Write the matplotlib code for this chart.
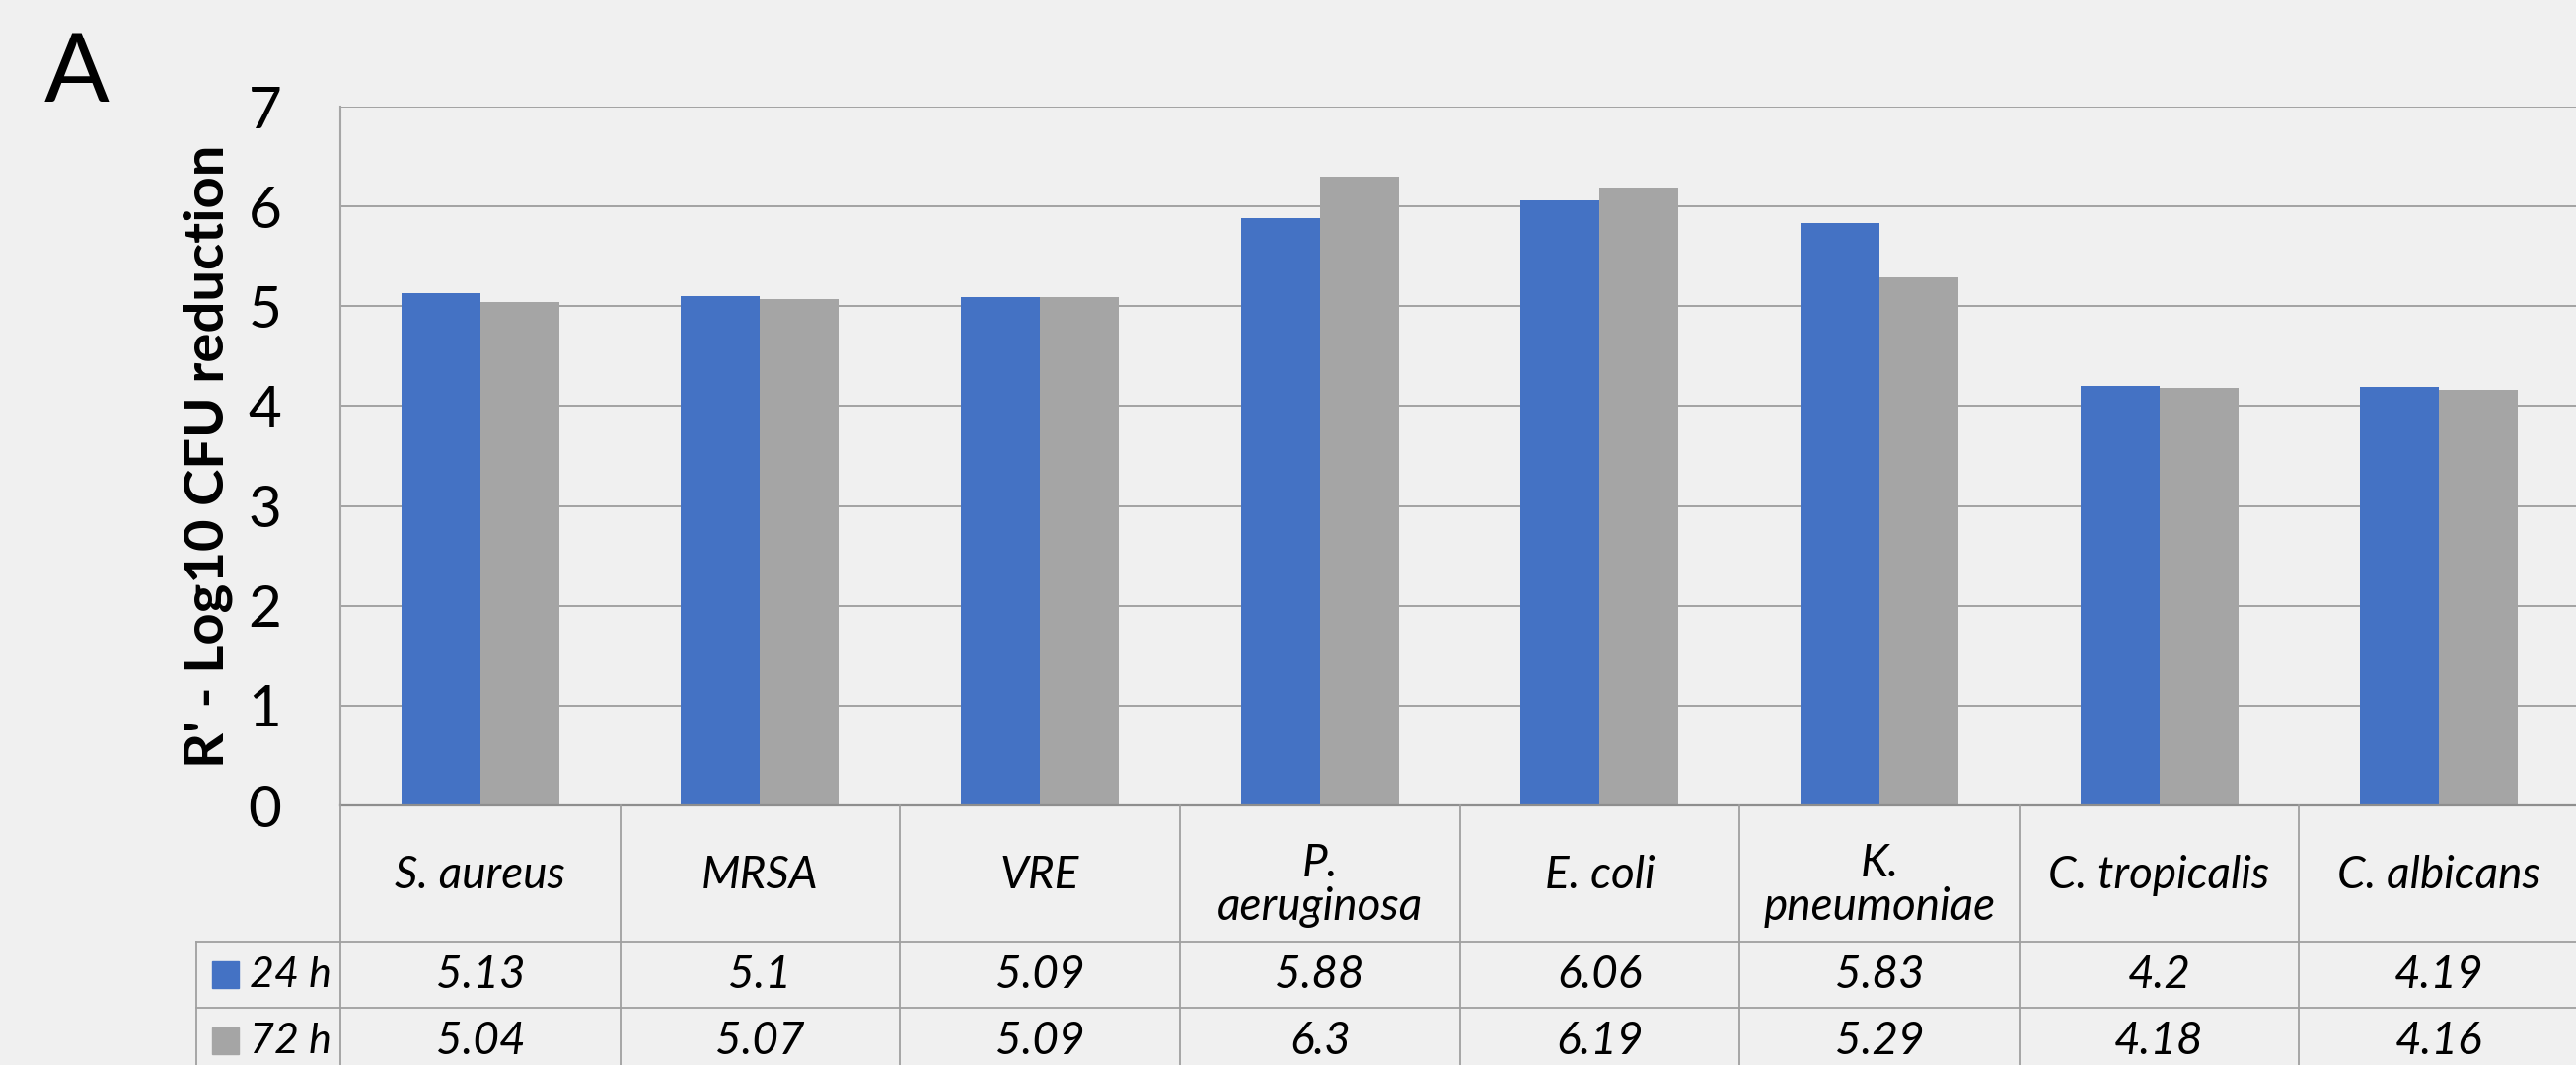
import matplotlib
matplotlib.use("Agg")
import matplotlib.pyplot as plt
from matplotlib.patches import Rectangle
from matplotlib.lines import Line2D
from matplotlib.transforms import blended_transform_factory

categories = ["S. aureus", "MRSA", "VRE", "P.\naeruginosa", "E. coli",
              "K.\npneumoniae", "C. tropicalis", "C. albicans"]
series_names = ["24 h", "72 h"]
vals_24h = [5.13, 5.1, 5.09, 5.88, 6.06, 5.83, 4.2, 4.19]
vals_72h = [5.04, 5.07, 5.09, 6.3, 6.19, 5.29, 4.18, 4.16]
yticks = [0, 1, 2, 3, 4, 5, 6, 7]
ylabel = "R' - Log10 CFU reduction"
panel = "A"

W, H = 2611, 1079
DPI = 100
BG = "#F0F0F0"
BLUE = "#4472C4"
GRAY = "#A5A5A5"
LINE = "#A0A0A0"
TFS = 33

plt.rcParams['font.family'] = ['Lato', 'DejaVu Sans']

fig = plt.figure(figsize=(W / DPI, H / DPI), dpi=DPI, facecolor=BG)

def fx(px):
    return px / W

def fy(py):
    return 1 - py / H

ax_left, ax_right, ax_top, ax_bot = 345, 2614, 108, 816
ax = fig.add_axes([fx(ax_left), fy(ax_bot), fx(ax_right - ax_left), (ax_bot - ax_top) / H])
ax.set_facecolor(BG)

n = len(categories)
xs = list(range(n))
bw = 0.282
ax.bar([x - bw / 2 for x in xs], vals_24h, width=bw, color=BLUE, zorder=3)
ax.bar([x + bw / 2 for x in xs], vals_72h, width=bw, color=GRAY, zorder=3)

ax.set_xlim(-0.5, n - 0.5)
ax.set_ylim(0, 7)
ax.set_yticks(yticks)
ax.set_yticklabels([str(t) for t in yticks], fontsize=42)
ax.tick_params(axis='y', length=0, pad=43)
ax.set_xticks([])
ax.grid(axis='y', color="#9C9C9C", linewidth=1.3, zorder=0)
ax.set_axisbelow(True)
for s in ['top', 'right']:
    ax.spines[s].set_visible(False)
ax.spines['left'].set_color("#A6A6A6")
ax.spines['left'].set_linewidth(1.5)
ax.spines['bottom'].set_color("#8E8E8E")
ax.spines['bottom'].set_linewidth(1.6)
ax.spines['bottom'].set_zorder(4)

# y label and panel letter
fig.text(fx(211), fy(462), ylabel, rotation=90, ha='center', va='center',
         fontsize=40.5, fontweight='bold')
fig.text(fx(45), fy(103), panel, ha='left', va='baseline', fontsize=70)

# data table below the axis
tr = blended_transform_factory(ax.transData, fig.transFigure)
row_lines = [954, 1021]
table_bottom = 1095
leg_left = 199

for yy in row_lines:
    fig.add_artist(Line2D([fx(leg_left), 1.01], [fy(yy), fy(yy)], color=LINE,
                          linewidth=1.3, transform=fig.transFigure))
fig.add_artist(Line2D([fx(leg_left), fx(leg_left)], [fy(row_lines[0]), fy(table_bottom)],
                      color=LINE, linewidth=1.3, transform=fig.transFigure))
for i in range(n + 1):
    fig.add_artist(Line2D([i - 0.5, i - 0.5], [fy(ax_bot), fy(table_bottom)], color=LINE,
                          linewidth=1.3, transform=tr))

header_y = 887
row_y = [988, 1055]
for i, c in enumerate(categories):
    yy = header_y + (10 if "\n" in c else 0)
    fig.text(i, fy(yy), c, transform=tr, ha='center', va='center',
             fontsize=TFS, style='italic', linespacing=1.03)
for vals, yy in zip([vals_24h, vals_72h], row_y):
    for i, v in enumerate(vals):
        fig.text(i, fy(yy), f"{v:g}", transform=tr, ha='center', va='center',
                 fontsize=TFS, style='italic')

for name, col, yy in zip(series_names, [BLUE, GRAY], row_y):
    fig.add_artist(Rectangle((fx(215), fy(yy + 13)), fx(27), 27 / H, color=col,
                             transform=fig.transFigure))
    fig.text(fx(253), fy(yy), name, ha='left', va='center', fontsize=31, style='italic')

fig.savefig("out.png", dpi=DPI, facecolor=BG)
